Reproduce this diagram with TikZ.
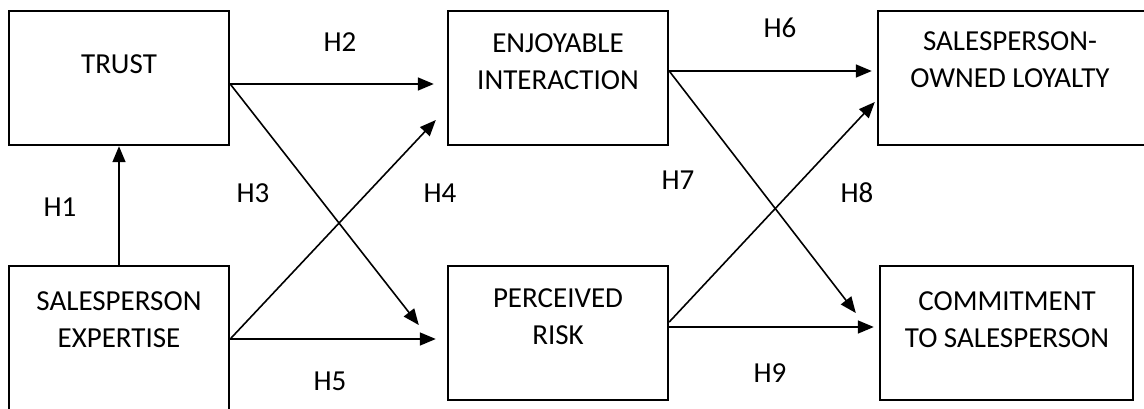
\documentclass[tikz,border=0pt]{standalone}
\usepackage{fontspec}
\setmainfont{Carlito}
\usetikzlibrary{arrows.meta, positioning, calc}

\begin{document}
\begin{tikzpicture}[x=0.5pt, y=-0.5pt,
    vbox/.style={rectangle, draw, line width=1.2pt, minimum width=110pt, minimum height=67pt, inner sep=0pt},
    vtext/.style={align=center, font=\fontsize{14.5}{18.5}\selectfont, inner sep=0pt},
    hyp/.style={font=\fontsize{14.5}{17}\selectfont, inner sep=0pt},
    link/.style={-{Triangle[length=8pt, width=6.5pt]}, line width=0.8pt},
]
    \useasboundingbox (0,0) rectangle (1144,408);
    \clip (0,0) rectangle (1144,408);

    % constructs
    \node[vbox] (trust) at (119,78) {};
    \node[vtext] (trust-t) at (119,64) {TRUST};

    \node[vbox] (enjoy) at (558,78) {};
    \node[vtext] (enjoy-t) at (558,62) {ENJOYABLE\\INTERACTION};

    \node[vbox, minimum width=136pt] (loyal) at (1014,78) {};
    \node[vtext] (loyal-t) at (1010,60) {SALESPERSON-\\OWNED LOYALTY};

    \node[vbox, minimum height=77pt] (expert) at (119,343) {};
    \node[vtext] (expert-t) at (119,320) {SALESPERSON\\EXPERTISE};

    \node[vbox] (risk) at (558,333) {};
    \node[vtext] (risk-t) at (558,317) {PERCEIVED\\RISK};

    \node[vbox, minimum width=126.5pt] (commit) at (1006.5,333) {};
    \node[vtext] (commit-t) at (1007,320) {COMMITMENT\\TO SALESPERSON};

    % paths
    \coordinate (trust-out) at ($(trust.east)+(0,6)$);
    \coordinate (expert-out) at ($(expert.east)+(0,-4)$);
    \coordinate (enjoy-out) at ($(enjoy.east)+(0,-7)$);

    \draw[link] (expert.north) -- (trust.south);
    \draw[link] (trust-out) -- ($(enjoy.west)+(-13,6)$);
    \draw[link] (trust-out) -- ($(risk.west)+(-28,-8)$);
    \draw[link] (expert-out) -- ($(enjoy.west)+(-11,42)$);
    \draw[link] (expert-out) -- ($(risk.west)+(-11,6)$);
    \draw[link] (enjoy-out) -- ($(loyal.west)+(-5,-7)$);
    \draw[link] (enjoy-out) -- ($(commit.west)+(-23,-20)$);
    \draw[link] ($(risk.east)+(0,-11)$) -- ($(loyal.west)+(-2,24)$);
    \draw[link] ($(risk.east)+(0,-6)$) -- ($(commit.west)+(-5,-6)$);

    % hypotheses
    \node[hyp] (h1) at (60,207) {H1};
    \node[hyp] (h2) at (340,42) {H2};
    \node[hyp] (h3) at (253,193) {H3};
    \node[hyp] (h4) at (440,193) {H4};
    \node[hyp] (h5) at (330,381) {H5};
    \node[hyp] (h6) at (780,28) {H6};
    \node[hyp] (h7) at (678,180) {H7};
    \node[hyp] (h8) at (857,193) {H8};
    \node[hyp] (h9) at (770,373) {H9};
\end{tikzpicture}
\end{document}
